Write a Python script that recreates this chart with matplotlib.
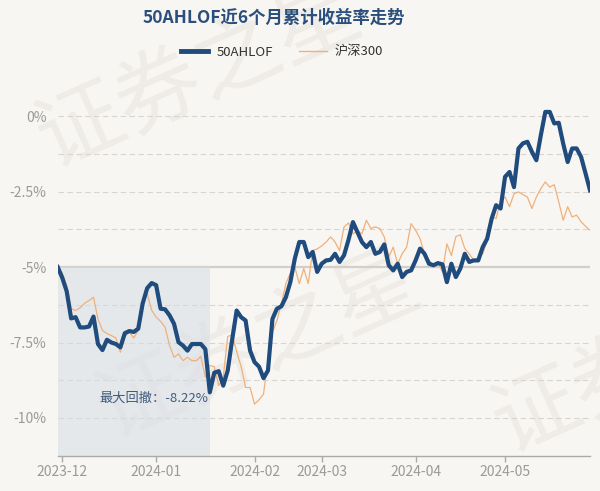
import matplotlib
matplotlib.use("Agg")
import matplotlib.pyplot as plt
from matplotlib.lines import Line2D
import numpy as np
import pandas as pd

plt.rcParams['font.family'] = ['Noto Sans CJK SC', 'DejaVu Sans']

# 交易日历 (2023-11-30 ~ 2024-05-31)
HOLIDAYS = ['2024-01-01', '2024-02-09', '2024-02-12', '2024-02-13', '2024-02-14',
            '2024-02-15', '2024-02-16', '2024-04-04', '2024-04-05',
            '2024-05-01', '2024-05-02', '2024-05-03']
dates = pd.bdate_range('2023-11-30', '2024-05-31')
dates = dates[~dates.isin(pd.to_datetime(HOLIDAYS))]

# 累计收益率 (%)
fund = [-5.00, -5.35, -5.80, -6.70, -6.66, -7.00, -7.00, -6.97, -6.64, -7.55,
        -7.75, -7.41, -7.50, -7.55, -7.66, -7.19, -7.12, -7.15, -7.04, -6.20,
        -5.70, -5.53, -5.60, -6.38, -6.40, -6.60, -6.88, -7.49, -7.60, -7.77,
        -7.55, -7.55, -7.55, -7.72, -9.15, -8.50, -8.45, -8.93, -8.43, -7.40,
        -6.44, -6.66, -6.77, -7.77, -8.15, -8.30, -8.68, -8.43, -6.72, -6.38,
        -6.30, -6.00, -5.50, -4.72, -4.17, -4.17, -4.67, -4.50, -5.16, -4.89,
        -4.78, -4.76, -4.56, -4.83, -4.61, -4.10, -3.51, -3.84, -4.17, -4.34,
        -4.17, -4.56, -4.50, -4.25, -4.94, -5.11, -4.89, -5.33, -5.16, -5.11,
        -4.78, -4.39, -4.56, -4.89, -4.94, -4.87, -4.91, -5.50, -4.89, -5.33,
        -5.05, -4.56, -4.83, -4.78, -4.78, -4.34, -4.06, -3.40, -2.95, -3.06,
        -2.01, -1.85, -2.35, -1.07, -0.90, -0.85, -1.18, -1.46, -0.63, 0.14,
        0.14, -0.24, -0.22, -0.91, -1.52, -1.07, -1.07, -1.35, -1.90, -2.46]

hs300 = [-5.00, -5.20, -5.60, -6.38, -6.44, -6.35, -6.20, -6.11, -6.00, -6.72,
         -7.10, -7.20, -7.27, -7.35, -7.82, -7.30, -7.16, -7.35, -7.10, -6.22,
         -5.88, -6.43, -6.66, -6.80, -6.99, -7.60, -7.99, -7.88, -8.10, -7.99,
         -8.10, -8.10, -7.96, -8.65, -8.26, -8.30, -8.93, -8.65, -7.30, -7.25,
         -7.80, -8.30, -8.99, -8.99, -9.54, -9.40, -9.21, -8.10, -7.16, -6.77,
         -6.22, -5.55, -5.20, -5.00, -5.55, -5.05, -5.55, -4.45, -4.40, -4.30,
         -4.17, -4.00, -4.17, -4.45, -3.67, -3.54, -3.90, -3.79, -3.90, -3.45,
         -3.72, -3.67, -3.72, -4.00, -4.67, -4.34, -4.89, -4.56, -4.34, -3.56,
         -3.78, -4.06, -4.56, -4.78, -4.94, -4.83, -5.16, -4.23, -4.62, -3.99,
         -3.93, -4.39, -4.56, -4.78, -4.70, -4.56, -4.12, -3.34, -3.39, -2.79,
         -2.68, -3.00, -2.57, -2.51, -2.60, -2.68, -3.06, -2.68, -2.40, -2.18,
         -2.35, -2.27, -2.84, -3.45, -3.00, -3.34, -3.28, -3.50, -3.65, -3.78]

dd_start, dd_end = 0, 34
dd_text = '最大回撤：-8.22%'
y_ticks = [0, -2.5, -5, -7.5, -10]
y_labels = ['0%', '-2.5%', '-5%', '-7.5%', '-10%']

x = np.arange(len(fund))
d = dates[:len(fund)]
month_first = pd.Series(x, index=d).groupby(d.to_period('M')).first().iloc[1:]
month_labels = [str(p) for p in month_first.index]

BG = '#f8f6f2'
fig = plt.figure(figsize=(6, 4.91), dpi=100, facecolor=BG)
ax = fig.add_axes([0.0962, 0.0719, 0.8872, 0.753])
ax.set_facecolor('none')

# 水印 (在坐标区下方)
for tx, ty, s in [(0.04, 0.62, '证券之星'), (0.14, 0.07, '证券之星'), (0.80, 0.04, '证券')]:
    fig.text(tx, ty, s, fontsize=62, color='#efece8', rotation=24,
             ha='left', va='bottom', zorder=-5)

# 网格
for g in [0, -1.25, -2.5, -3.75, -6.25, -7.5, -8.75, -10]:
    ax.axhline(g, color='#d8d5d1', lw=0.8, ls=(0, (5, 3)), zorder=1)
ax.axhline(-5, color='#d2cec9', lw=1.6, zorder=1)

# 最大回撤区域
ax.fill_between([dd_start, dd_end], -5, -11.25, color='#d6dde5', alpha=0.55,
                lw=0, zorder=2)
ax.text(dd_end - 0.3, -9.36, dd_text, ha='right', va='center', fontsize=9.5,
        color='#3f5b7d', zorder=5)

ax.plot(x, hs300, color='#f0b07a', lw=0.9, zorder=3)
ax.plot(x, fund, color='#1f4b7d', lw=3.0, zorder=4, solid_joinstyle='round')

ax.set_xlim(0, 119)
ax.set_ylim(-11.25, 1.0)
ax.set_yticks(y_ticks)
ax.set_yticklabels(y_labels)
ax.set_xticks(month_first.values)
ax.set_xticklabels(month_labels)
ax.tick_params(axis='y', length=0, pad=8, labelsize=10, labelcolor='#9a9a9a')
ax.tick_params(axis='x', length=4, width=1, color='#aaaaaa', pad=3,
               labelsize=10, labelcolor='#9a9a9a')
for side in ['top', 'right', 'left']:
    ax.spines[side].set_visible(False)
ax.spines['bottom'].set_color('#aaaaaa')
ax.spines['bottom'].set_linewidth(1)

fig.text(0.456, 1 - 18 / 491, '50AHLOF近6个月累计收益率走势', ha='center',
         va='center', fontsize=12.5, fontweight='bold', color='#2b4f7c')

handles = [Line2D([], [], color='#1f4b7d', lw=3.5),
           Line2D([], [], color='#f0b07a', lw=1)]
fig.legend(handles, ['50AHLOF', '沪深300'], loc='center',
           bbox_to_anchor=(0.47, 1 - 52 / 491), ncol=2, frameon=False,
           fontsize=9.5, handlelength=2.1, handletextpad=0.6,
           columnspacing=2.0, labelcolor='#333333')

fig.savefig('out.png', dpi=100, facecolor=BG)
